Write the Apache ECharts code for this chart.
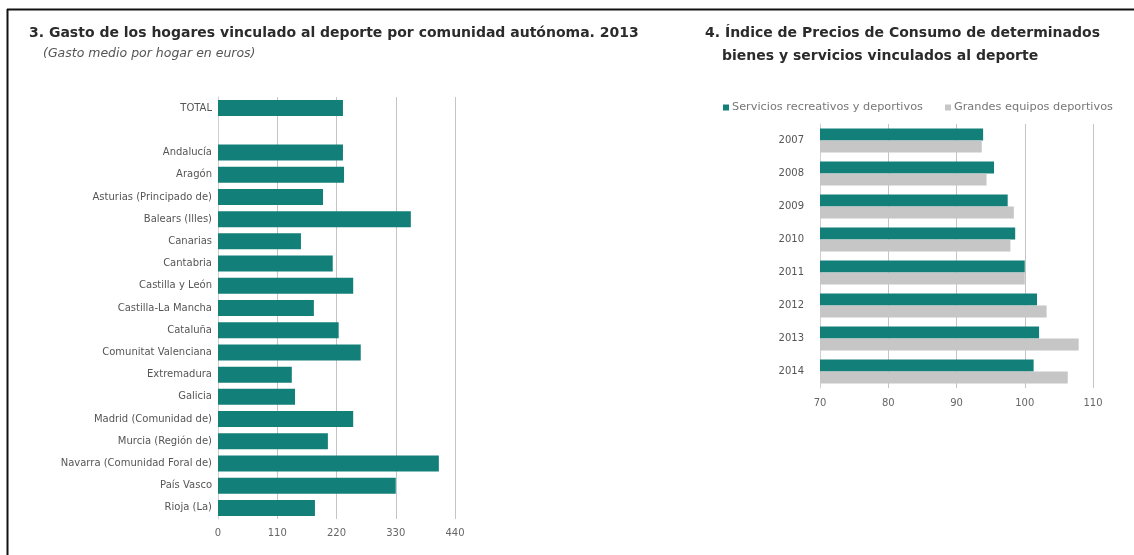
<!DOCTYPE html>
<html>
<head>
<meta charset="utf-8">
<script src="https://cdn.jsdelivr.net/npm/echarts@6/dist/echarts.min.js"></script>
<style>
  html, body { margin: 0; padding: 0; background: #ffffff; }
  #chart { width: 1134px; height: 555px; }
</style>
</head>
<body>
<div id="chart"></div>
<script>
// Panel 3: average household sport spending by region, 2013 (euros)
const regions = [
  'TOTAL', '',
  'Andalucía', 'Aragón', 'Asturias (Principado de)', 'Balears (Illes)', 'Canarias',
  'Cantabria', 'Castilla y León', 'Castilla-La Mancha', 'Cataluña',
  'Comunitat Valenciana', 'Extremadura', 'Galicia', 'Madrid (Comunidad de)',
  'Murcia (Región de)', 'Navarra (Comunidad Foral de)', 'País Vasco', 'Rioja (La)'
];
const spending = [
  232, null,
  232, 234, 195, 358, 154,
  213, 251, 178, 224,
  265, 137, 143, 251,
  204, 410, 330, 180
];
const spendingTicks = [0, 110, 220, 330, 440];

// Panel 4: consumer price index of sport goods and services
const years = ['2007', '2008', '2009', '2010', '2011', '2012', '2013', '2014'];
const recreationalServices = [93.9, 95.5, 97.5, 98.6, 100.0, 101.8, 102.1, 101.3];
const majorEquipment = [93.7, 94.4, 98.4, 97.9, 100.0, 103.2, 107.9, 106.3];
const seriesNames = ['Servicios recreativos y deportivos', 'Grandes equipos deportivos'];

const TEAL = '#127f79';
const GREY = '#c6c6c6';
const FONT = 'DejaVu Sans';

const chart = echarts.init(document.getElementById('chart'), null, { renderer: 'canvas' });

const headStyle = { fontFamily: FONT, fontSize: 14, fontWeight: 'bold', color: '#2b2b2b' };

chart.setOption({
  backgroundColor: '#ffffff',
  animation: false,
  textStyle: { fontFamily: FONT },
  title: [
    {
      text: '3. Gasto de los hogares vinculado al deporte por comunidad autónoma. 2013',
      left: 24, top: 21, textStyle: headStyle
    },
    {
      text: '(Gasto medio por hogar en euros)',
      left: 38, top: 42,
      textStyle: { fontFamily: FONT, fontSize: 12.5, fontStyle: 'italic', fontWeight: 'normal', color: '#555' }
    },
    {
      text: '4. Índice de Precios de Consumo de determinados',
      left: 700, top: 21, textStyle: headStyle
    },
    {
      text: 'bienes y servicios vinculados al deporte',
      left: 717, top: 44, textStyle: headStyle
    }
  ],
  legend: {
    left: 718, top: 97,
    itemWidth: 6, itemHeight: 6, itemGap: 22,
    icon: 'rect',
    data: seriesNames,
    textStyle: { fontFamily: FONT, fontSize: 11.3, color: '#777', padding: [0, 0, 0, -2] }
  },
  grid: [
    { left: 218, top: 97, width: 237, height: 422 },
    { left: 820, top: 124, width: 273, height: 264 }
  ],
  xAxis: [
    {
      gridIndex: 0, type: 'value', min: 0, max: 440, interval: 110,
      axisLine: { show: false }, axisTick: { show: false },
      axisLabel: {
        margin: 9, color: '#666', fontSize: 10, fontFamily: FONT,
        formatter: v => spendingTicks.includes(v) ? String(v) : ''
      },
      splitLine: { show: true, lineStyle: { color: '#c4c4c4', width: 1 } }
    },
    {
      gridIndex: 1, type: 'value', min: 70, max: 110, interval: 10,
      axisLine: { show: false }, axisTick: { show: false },
      axisLabel: { margin: 10, color: '#666', fontSize: 10, fontFamily: FONT },
      splitLine: { show: true, lineStyle: { color: '#c4c4c4', width: 1 } }
    }
  ],
  yAxis: [
    {
      gridIndex: 0, type: 'category', data: regions, inverse: true,
      axisLine: { show: true, lineStyle: { color: '#d0d0d0' } },
      axisTick: { show: false },
      axisLabel: { margin: 6, color: '#555', fontSize: 10, fontFamily: FONT, interval: 0 }
    },
    {
      gridIndex: 1, type: 'category', data: years, inverse: true,
      axisLine: { show: true, lineStyle: { color: '#d0d0d0' } },
      axisTick: { show: false },
      axisLabel: { margin: 16, color: '#555', fontSize: 10, fontFamily: FONT }
    }
  ],
  series: [
    {
      name: 'Gasto medio por hogar',
      type: 'bar', xAxisIndex: 0, yAxisIndex: 0,
      data: spending, barWidth: 16,
      itemStyle: { color: TEAL }
    },
    {
      name: seriesNames[0],
      type: 'bar', xAxisIndex: 1, yAxisIndex: 1,
      data: recreationalServices, barWidth: 12, barGap: '0%',
      itemStyle: { color: TEAL }
    },
    {
      name: seriesNames[1],
      type: 'bar', xAxisIndex: 1, yAxisIndex: 1,
      data: majorEquipment, barWidth: 12, barGap: '0%',
      itemStyle: { color: GREY }
    }
  ],
  graphic: [
    // page frame: top and left rules
    { type: 'line', shape: { x1: 7, y1: 9.5, x2: 1134, y2: 9.5 }, style: { stroke: '#111', lineWidth: 2 } },
    { type: 'line', shape: { x1: 7.5, y1: 9, x2: 7.5, y2: 555 }, style: { stroke: '#111', lineWidth: 2 } }
  ]
});
</script>
</body>
</html>
